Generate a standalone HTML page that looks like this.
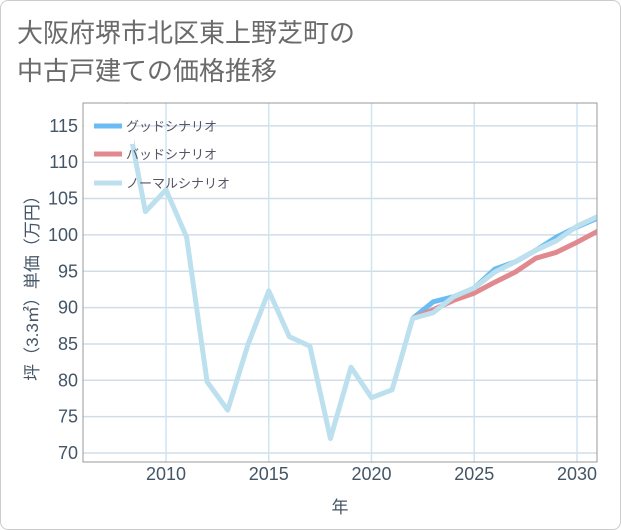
<!DOCTYPE html>
<html><head><meta charset="utf-8">
<style>
body{margin:0;background:#fff;font-family:"Liberation Sans","Noto Sans CJK JP",sans-serif;}
#card{position:absolute;left:0;top:0;width:619px;height:528px;border:1px solid #ccc;border-radius:8px;background:#fff;}
</style></head><body>
<div id="card">
<svg id="chart" width="621" height="530" style="position:absolute;left:-1px;top:-1px">
<text x="17" y="42" font-size="26" fill="#6a6a6a">大阪府堺市北区東上野芝町の</text>
<text x="17" y="80" font-size="26" fill="#6a6a6a">中古戸建ての価格推移</text>
<defs><clipPath id="pc"><rect x="83" y="103" width="514" height="359"/></clipPath></defs>
<g id="grid"></g>
<g id="series" clip-path="url(#pc)"></g>
<rect x="83" y="103" width="514" height="359" fill="none" stroke="#999"/>
<g id="axes"></g>
<text transform="translate(38,284) rotate(-90)" text-anchor="middle" font-size="17" fill="#445566">坪（3.3㎡）単価（万円）</text>
<text x="340" y="513" text-anchor="middle" font-size="17" fill="#445566">年</text>
<g>
<line x1="94" y1="126" x2="122" y2="126" stroke="#6bbcf2" stroke-width="5"/>
<text x="126" y="131" font-size="13" fill="#556">グッドシナリオ</text>
<line x1="94" y1="154" x2="122" y2="154" stroke="#e08a90" stroke-width="5"/>
<text x="126" y="159" font-size="13" fill="#556">バッドシナリオ</text>
<line x1="94" y1="183" x2="122" y2="183" stroke="#bde0ee" stroke-width="5"/>
<text x="126" y="188" font-size="13" fill="#556">ノーマルシナリオ</text>
</g>
</svg>
</div>
<script>
const normalYears=[2008,2009,2010,2011,2012,2013,2014,2015,2016,2017,2018,2019,2020,2021,2022,2023,2024,2025,2026,2027,2028,2029,2030,2031];
const normalValues=[118,103.2,106.2,99.7,79.8,75.9,85,92.3,86,84.7,72,81.8,77.6,78.7,88.5,89.3,91.5,92.7,94.9,96.3,97.9,99.2,101.2,102.5];
const forecastYears=[2022,2023,2024,2025,2026,2027,2028,2029,2030,2031];
const goodValues=[88.5,90.8,91.5,92.7,95.3,96.3,97.9,99.7,101.1,102.3];
const badValues=[88.5,89.7,91,92,93.5,94.9,96.8,97.6,99,100.5];
const yTicks=[70,75,80,85,90,95,100,105,110,115];
const xTicks=[2010,2015,2020,2025,2030];
const NS='http://www.w3.org/2000/svg';
function xs(y){return 166+(y-2010)*20.55;}
function ys(v){return 453-(v-70)*7.27;}
const grid=document.getElementById('grid'),axes=document.getElementById('axes'),ser=document.getElementById('series');
function mk(tag,attrs,parent){const e=document.createElementNS(NS,tag);for(const k in attrs)e.setAttribute(k,attrs[k]);parent.appendChild(e);return e;}
yTicks.forEach(t=>{
 const l=mk('line',{x1:83,x2:597,y1:ys(t),y2:ys(t),stroke:'#d0dde8','stroke-width':1.5},grid);
 
 
 const tx=mk('text',{x:78,y:ys(t)+6,'text-anchor':'end','font-size':18,fill:'#445566'},axes);
 tx.textContent=t;
 
 
});
xTicks.forEach(t=>{
 const l=mk('line',{x1:xs(t),x2:xs(t),y1:103,y2:462,stroke:'#cfe3f0','stroke-width':1.5},grid);
 
 
 const tx=mk('text',{x:xs(t),y:480,'text-anchor':'middle','font-size':18,fill:'#445566'},axes);
 tx.textContent=t;
 
 
});
function line(years,vals,color,w,name){
 const d=years.map((y,i)=>(i?'L':'M')+xs(y).toFixed(1)+','+ys(vals[i]).toFixed(1)).join(' ');
 const p=mk('path',{d:d,fill:'none',stroke:color,'stroke-width':w,'stroke-linejoin':'round'},ser);
 
 
}
line(forecastYears,goodValues,'#6bbcf2',5,'good-scenario-line');
line(forecastYears,badValues,'#e08a90',5,'bad-scenario-line');
line(normalYears,normalValues,'#bde0ee',5,'normal-scenario-line');
// cover the part of the 2008 segment that sits under the legend, as in the reference
const cover=mk('rect',{x:84,y:104,width:50,height:40,fill:'#fff'},ser);


</script>
</body></html>
